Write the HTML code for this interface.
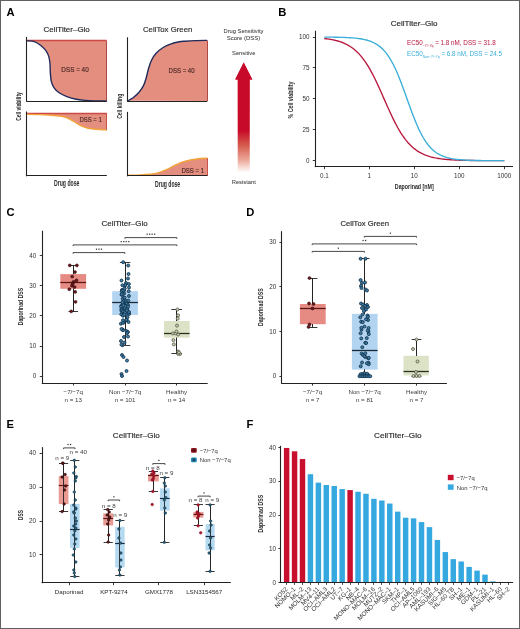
<!DOCTYPE html>
<html><head><meta charset="utf-8"><style>
html,body{margin:0;padding:0;background:#fff;}
body{width:520px;height:629px;overflow:hidden;}
svg{display:block;font-family:"Liberation Sans", sans-serif;will-change:transform;}
</style></head><body>
<svg width="520" height="629" viewBox="0 0 520 629">
<rect width="520" height="629" fill="#fff"/>
<rect x="0.5" y="0.5" width="519" height="628" fill="none" stroke="#606060" stroke-width="1"/>
<text x="6.60" y="16.00" font-size="11.2" fill="#000" text-anchor="start" font-weight="bold">A</text>
<text x="43.60" y="32.10" font-size="8.1" fill="#2a2a2a" text-anchor="start" stroke="#2a2a2a" stroke-width="0.16" textLength="46.20" lengthAdjust="spacingAndGlyphs">CellTiter–Glo</text>
<text x="143.00" y="31.90" font-size="8.1" fill="#2a2a2a" text-anchor="start" stroke="#2a2a2a" stroke-width="0.16" textLength="49.30" lengthAdjust="spacingAndGlyphs">CellTox Green</text>
<path d="M27.20,40.80 C28.38,40.93 32.08,40.87 34.30,41.60 C36.52,42.33 38.60,43.73 40.50,45.20 C42.40,46.67 44.32,48.50 45.70,50.40 C47.08,52.30 48.08,54.37 48.80,56.60 C49.52,58.83 49.75,61.22 50.00,63.80 C50.25,66.38 50.08,69.17 50.30,72.10 C50.52,75.03 50.70,78.82 51.30,81.40 C51.90,83.98 52.60,85.70 53.90,87.60 C55.20,89.50 57.03,91.33 59.10,92.80 C61.17,94.27 63.65,95.37 66.30,96.40 C68.95,97.43 71.88,98.33 75.00,99.00 C78.12,99.67 81.67,100.08 85.00,100.40 C88.33,100.72 91.40,100.80 95.00,100.90 C98.60,101.00 104.67,100.98 106.60,101.00 L106.6,40.8 Z" fill="#E38E7E" stroke="none" stroke-width="1"/>
<line x1="27.00" y1="40.50" x2="106.60" y2="40.50" stroke="#CC4A46" stroke-width="1.3"/>
<line x1="106.50" y1="40.60" x2="106.50" y2="101.00" stroke="#B04848" stroke-width="1"/>
<path d="M27.20,40.80 C28.38,40.93 32.08,40.87 34.30,41.60 C36.52,42.33 38.60,43.73 40.50,45.20 C42.40,46.67 44.32,48.50 45.70,50.40 C47.08,52.30 48.08,54.37 48.80,56.60 C49.52,58.83 49.75,61.22 50.00,63.80 C50.25,66.38 50.08,69.17 50.30,72.10 C50.52,75.03 50.70,78.82 51.30,81.40 C51.90,83.98 52.60,85.70 53.90,87.60 C55.20,89.50 57.03,91.33 59.10,92.80 C61.17,94.27 63.65,95.37 66.30,96.40 C68.95,97.43 71.88,98.33 75.00,99.00 C78.12,99.67 81.67,100.08 85.00,100.40 C88.33,100.72 91.40,100.80 95.00,100.90 C98.60,101.00 104.67,100.98 106.60,101.00" fill="none" stroke="#222C5C" stroke-width="1.4"/>
<text x="75.00" y="72.30" font-size="6.4" fill="#3C1E1E" text-anchor="middle" stroke="#3C1E1E" stroke-width="0.1" textLength="27.40" lengthAdjust="spacingAndGlyphs">DSS = 40</text>
<line x1="26.50" y1="37.00" x2="26.50" y2="101.60" stroke="#222" stroke-width="1.1"/>
<line x1="26.40" y1="101.50" x2="106.80" y2="101.50" stroke="#222" stroke-width="1.1"/>
<path d="M27.20,114.30 C29.33,114.35 36.20,114.45 40.00,114.60 C43.80,114.75 47.18,115.00 50.00,115.20 C52.82,115.40 54.60,115.55 56.90,115.80 C59.20,116.05 61.68,116.17 63.80,116.70 C65.92,117.23 67.67,118.05 69.60,119.00 C71.53,119.95 73.48,121.25 75.40,122.40 C77.32,123.55 78.98,124.93 81.10,125.90 C83.22,126.87 85.60,127.63 88.10,128.20 C90.60,128.77 93.03,129.02 96.10,129.30 C99.17,129.58 104.77,129.80 106.50,129.90 L106.6,113.3 L27.2,113.3 Z" fill="#E38E7E" stroke="none" stroke-width="1"/>
<line x1="27.00" y1="113.50" x2="106.60" y2="113.50" stroke="#CC4A46" stroke-width="1.3"/>
<line x1="106.50" y1="113.10" x2="106.50" y2="130.50" stroke="#C8524A" stroke-width="1"/>
<path d="M27.20,114.30 C29.33,114.35 36.20,114.45 40.00,114.60 C43.80,114.75 47.18,115.00 50.00,115.20 C52.82,115.40 54.60,115.55 56.90,115.80 C59.20,116.05 61.68,116.17 63.80,116.70 C65.92,117.23 67.67,118.05 69.60,119.00 C71.53,119.95 73.48,121.25 75.40,122.40 C77.32,123.55 78.98,124.93 81.10,125.90 C83.22,126.87 85.60,127.63 88.10,128.20 C90.60,128.77 93.03,129.02 96.10,129.30 C99.17,129.58 104.77,129.80 106.50,129.90" fill="none" stroke="#F2A43A" stroke-width="1.4"/>
<text x="90.60" y="121.80" font-size="6.4" fill="#3C1E1E" text-anchor="middle" stroke="#3C1E1E" stroke-width="0.1" textLength="22.40" lengthAdjust="spacingAndGlyphs">DSS = 1</text>
<line x1="26.50" y1="111.50" x2="26.50" y2="176.30" stroke="#222" stroke-width="1.1"/>
<line x1="26.40" y1="175.50" x2="106.80" y2="175.50" stroke="#222" stroke-width="1.1"/>
<text x="66.70" y="185.60" font-size="8.3" fill="#2a2a2a" text-anchor="middle" font-weight="bold" textLength="25.40" lengthAdjust="spacingAndGlyphs">Drug dose</text>
<text x="20.90" y="106.50" font-size="8.1" fill="#2a2a2a" text-anchor="middle" font-weight="bold" textLength="28.60" lengthAdjust="spacingAndGlyphs" transform="rotate(-90 20.90 106.50)">Cell viability</text>
<path d="M127.90,100.80 C128.77,100.28 131.28,99.08 133.10,97.70 C134.92,96.32 137.07,94.52 138.80,92.50 C140.53,90.48 142.25,88.10 143.50,85.60 C144.75,83.10 145.45,80.38 146.30,77.50 C147.15,74.62 147.73,71.18 148.60,68.30 C149.47,65.42 150.25,62.70 151.50,60.20 C152.75,57.70 154.17,55.42 156.10,53.30 C158.03,51.18 160.60,49.08 163.10,47.50 C165.60,45.92 168.42,44.75 171.10,43.80 C173.78,42.85 176.88,42.23 179.20,41.80 C181.52,41.37 182.37,41.40 185.00,41.20 C187.63,41.00 191.33,40.73 195.00,40.60 C198.67,40.47 205.00,40.43 207.00,40.40 L207,101 Z" fill="#E38E7E" stroke="none" stroke-width="1"/>
<line x1="207.50" y1="40.30" x2="207.50" y2="101.00" stroke="#B04848" stroke-width="1"/>
<path d="M127.90,100.80 C128.77,100.28 131.28,99.08 133.10,97.70 C134.92,96.32 137.07,94.52 138.80,92.50 C140.53,90.48 142.25,88.10 143.50,85.60 C144.75,83.10 145.45,80.38 146.30,77.50 C147.15,74.62 147.73,71.18 148.60,68.30 C149.47,65.42 150.25,62.70 151.50,60.20 C152.75,57.70 154.17,55.42 156.10,53.30 C158.03,51.18 160.60,49.08 163.10,47.50 C165.60,45.92 168.42,44.75 171.10,43.80 C173.78,42.85 176.88,42.23 179.20,41.80 C181.52,41.37 182.37,41.40 185.00,41.20 C187.63,41.00 191.33,40.73 195.00,40.60 C198.67,40.47 205.00,40.43 207.00,40.40" fill="none" stroke="#222C5C" stroke-width="1.4"/>
<text x="181.60" y="72.90" font-size="6.4" fill="#3C1E1E" text-anchor="middle" stroke="#3C1E1E" stroke-width="0.1" textLength="26.00" lengthAdjust="spacingAndGlyphs">DSS = 40</text>
<line x1="127.50" y1="37.30" x2="127.50" y2="101.60" stroke="#222" stroke-width="1.1"/>
<line x1="127.10" y1="101.50" x2="207.30" y2="101.50" stroke="#222" stroke-width="1.1"/>
<path d="M127.90,175.20 C129.92,175.15 136.32,175.07 140.00,174.90 C143.68,174.73 147.00,174.55 150.00,174.20 C153.00,173.85 155.17,173.62 158.00,172.80 C160.83,171.98 163.97,170.67 167.00,169.30 C170.03,167.93 173.13,165.97 176.20,164.60 C179.27,163.23 181.93,162.03 185.40,161.10 C188.87,160.17 193.37,159.48 197.00,159.00 C200.63,158.52 205.50,158.33 207.20,158.20 L207.2,175.8 L127.9,175.8 Z" fill="#E38E7E" stroke="none" stroke-width="1"/>
<line x1="207.50" y1="158.00" x2="207.50" y2="176.00" stroke="#C8524A" stroke-width="1"/>
<path d="M127.90,175.20 C129.92,175.15 136.32,175.07 140.00,174.90 C143.68,174.73 147.00,174.55 150.00,174.20 C153.00,173.85 155.17,173.62 158.00,172.80 C160.83,171.98 163.97,170.67 167.00,169.30 C170.03,167.93 173.13,165.97 176.20,164.60 C179.27,163.23 181.93,162.03 185.40,161.10 C188.87,160.17 193.37,159.48 197.00,159.00 C200.63,158.52 205.50,158.33 207.20,158.20" fill="none" stroke="#F2A43A" stroke-width="1.4"/>
<text x="192.80" y="172.70" font-size="6.4" fill="#3C1E1E" text-anchor="middle" stroke="#3C1E1E" stroke-width="0.1" textLength="22.70" lengthAdjust="spacingAndGlyphs">DSS = 1</text>
<line x1="127.50" y1="111.90" x2="127.50" y2="176.30" stroke="#222" stroke-width="1.1"/>
<line x1="127.10" y1="175.50" x2="207.30" y2="175.50" stroke="#222" stroke-width="1.1"/>
<text x="167.60" y="186.70" font-size="8.3" fill="#2a2a2a" text-anchor="middle" font-weight="bold" textLength="25.20" lengthAdjust="spacingAndGlyphs">Drug dose</text>
<text x="121.60" y="106.30" font-size="8.1" fill="#2a2a2a" text-anchor="middle" font-weight="bold" textLength="25.00" lengthAdjust="spacingAndGlyphs" transform="rotate(-90 121.60 106.30)">Cell killing</text>
<text x="243.50" y="32.50" font-size="6.1" fill="#3a3a3a" text-anchor="middle" stroke="#3a3a3a" stroke-width="0.04" textLength="40.00" lengthAdjust="spacingAndGlyphs">Drug Sensitivity</text>
<text x="243.50" y="39.70" font-size="6.1" fill="#3a3a3a" text-anchor="middle" stroke="#3a3a3a" stroke-width="0.04" textLength="33.50" lengthAdjust="spacingAndGlyphs">Score (DSS)</text>
<text x="243.70" y="55.10" font-size="6.1" fill="#3a3a3a" text-anchor="middle" stroke="#3a3a3a" stroke-width="0.04" textLength="23.30" lengthAdjust="spacingAndGlyphs">Sensitive</text>
<text x="243.80" y="184.40" font-size="6.1" fill="#3a3a3a" text-anchor="middle" stroke="#3a3a3a" stroke-width="0.04" textLength="24.20" lengthAdjust="spacingAndGlyphs">Resistant</text>
<defs><linearGradient id="ag" x1="0" y1="0" x2="0" y2="1"><stop offset="0" stop-color="#C8102E"/><stop offset="0.35" stop-color="#C8102E"/><stop offset="0.75" stop-color="#E58C84"/><stop offset="1" stop-color="#FFFFFF"/></linearGradient></defs>
<path d="M243.7,62.6 L252.3,79.6 L249.6,79.6 L249.6,172.5 L237.8,172.5 L237.8,79.6 L235.2,79.6 Z" fill="url(#ag)" stroke="none" stroke-width="1"/>
<path d="M243.7,62.6 L252.3,79.6 L235.2,79.6 Z" fill="#C80A2A" stroke="none" stroke-width="1"/>
<defs><linearGradient id="sg" x1="0" y1="79.6" x2="0" y2="172.5" gradientUnits="userSpaceOnUse"><stop offset="0" stop-color="#C80A2A"/><stop offset="0.55" stop-color="#C80A2A"/><stop offset="0.7" stop-color="#D4584A"/><stop offset="0.86" stop-color="#EBA596"/><stop offset="1" stop-color="#FFFFFF"/></linearGradient></defs>
<rect x="237.80" y="79.40" width="11.80" height="93.10" fill="url(#sg)"/>
<text x="278.30" y="16.00" font-size="11.2" fill="#000" text-anchor="start" font-weight="bold">B</text>
<text x="414.10" y="25.70" font-size="8.1" fill="#2a2a2a" text-anchor="middle" stroke="#2a2a2a" stroke-width="0.16" textLength="46.70" lengthAdjust="spacingAndGlyphs">CellTiter–Glo</text>
<line x1="315.50" y1="30.80" x2="315.50" y2="167.10" stroke="#222" stroke-width="1.1"/>
<line x1="314.80" y1="166.50" x2="513.00" y2="166.50" stroke="#222" stroke-width="1.1"/>
<line x1="312.80" y1="160.50" x2="315.30" y2="160.50" stroke="#222" stroke-width="0.9"/>
<text x="309.40" y="162.80" font-size="6.3" fill="#333" text-anchor="end">0</text>
<line x1="312.80" y1="129.50" x2="315.30" y2="129.50" stroke="#222" stroke-width="0.9"/>
<text x="309.40" y="131.89" font-size="6.3" fill="#333" text-anchor="end">25</text>
<line x1="312.80" y1="98.50" x2="315.30" y2="98.50" stroke="#222" stroke-width="0.9"/>
<text x="309.40" y="100.97" font-size="6.3" fill="#333" text-anchor="end">50</text>
<line x1="312.80" y1="67.50" x2="315.30" y2="67.50" stroke="#222" stroke-width="0.9"/>
<text x="309.40" y="70.06" font-size="6.3" fill="#333" text-anchor="end">75</text>
<line x1="312.80" y1="37.50" x2="315.30" y2="37.50" stroke="#222" stroke-width="0.9"/>
<text x="309.40" y="39.15" font-size="6.3" fill="#333" text-anchor="end">100</text>
<line x1="324.50" y1="166.70" x2="324.50" y2="169.20" stroke="#222" stroke-width="0.9"/>
<text x="324.30" y="178.00" font-size="6.3" fill="#333" text-anchor="middle">0.1</text>
<line x1="369.50" y1="166.70" x2="369.50" y2="169.20" stroke="#222" stroke-width="0.9"/>
<text x="369.30" y="178.00" font-size="6.3" fill="#333" text-anchor="middle">1</text>
<line x1="414.50" y1="166.70" x2="414.50" y2="169.20" stroke="#222" stroke-width="0.9"/>
<text x="414.30" y="178.00" font-size="6.3" fill="#333" text-anchor="middle">10</text>
<line x1="459.50" y1="166.70" x2="459.50" y2="169.20" stroke="#222" stroke-width="0.9"/>
<text x="459.30" y="178.00" font-size="6.3" fill="#333" text-anchor="middle">100</text>
<line x1="504.50" y1="166.70" x2="504.50" y2="169.20" stroke="#222" stroke-width="0.9"/>
<text x="504.30" y="178.00" font-size="6.3" fill="#333" text-anchor="middle">1000</text>
<text x="414.30" y="189.00" font-size="7.2" fill="#2a2a2a" text-anchor="middle" font-weight="bold" textLength="39.00" lengthAdjust="spacingAndGlyphs">Daporinad [nM]</text>
<text x="292.60" y="100.00" font-size="7.2" fill="#2a2a2a" text-anchor="middle" font-weight="bold" textLength="37.00" lengthAdjust="spacingAndGlyphs" transform="rotate(-90 292.60 100.00)">% Cell viability</text>
<path d="M324.30,38.54 L325.80,38.72 L327.30,38.91 L328.80,39.12 L330.30,39.36 L331.80,39.62 L333.30,39.92 L334.80,40.24 L336.30,40.60 L337.80,41.01 L339.30,41.45 L340.80,41.95 L342.30,42.49 L343.80,43.10 L345.30,43.77 L346.80,44.50 L348.30,45.32 L349.80,46.21 L351.30,47.19 L352.80,48.27 L354.30,49.45 L355.80,50.74 L357.30,52.14 L358.80,53.67 L360.30,55.33 L361.80,57.11 L363.30,59.04 L364.80,61.11 L366.30,63.33 L367.80,65.69 L369.30,68.19 L370.80,70.84 L372.30,73.62 L373.80,76.52 L375.30,79.55 L376.80,82.69 L378.30,85.91 L379.80,89.21 L381.30,92.57 L382.80,95.97 L384.30,99.38 L385.80,102.79 L387.30,106.18 L388.80,109.53 L390.30,112.81 L391.80,116.01 L393.30,119.11 L394.80,122.10 L396.30,124.97 L397.80,127.72 L399.30,130.32 L400.80,132.78 L402.30,135.10 L403.80,137.27 L405.30,139.30 L406.80,141.18 L408.30,142.93 L409.80,144.55 L411.30,146.04 L412.80,147.41 L414.30,148.66 L415.80,149.81 L417.30,150.86 L418.80,151.81 L420.30,152.68 L421.80,153.47 L423.30,154.19 L424.80,154.84 L426.30,155.43 L427.80,155.96 L429.30,156.44 L430.80,156.87 L432.30,157.26 L433.80,157.61 L435.30,157.93 L436.80,158.21 L438.30,158.47 L439.80,158.70 L441.30,158.90 L442.80,159.09 L444.30,159.25 L445.80,159.40 L447.30,159.54 L448.80,159.66 L450.30,159.77 L451.80,159.86 L453.30,159.95 L454.80,160.03 L456.30,160.10 L457.80,160.16 L459.30,160.22 L460.80,160.27 L462.30,160.31 L463.80,160.35 L465.30,160.39 L466.80,160.42 L468.30,160.45 L469.80,160.48 L471.30,160.50 L472.80,160.52 L474.30,160.54 L475.80,160.56 L477.30,160.57 L478.80,160.59 L480.30,160.60 L481.80,160.61 L483.30,160.62 L484.80,160.63 L486.30,160.63 L487.80,160.64 L489.30,160.65 L490.80,160.65 L492.30,160.66 L493.80,160.66 L495.30,160.67 L496.80,160.67 L498.30,160.67 L499.80,160.68 L501.30,160.68 L502.80,160.68 L504.30,160.68" fill="none" stroke="#B8173D" stroke-width="1.35"/>
<path d="M324.30,37.12 L325.80,37.13 L327.30,37.14 L328.80,37.15 L330.30,37.16 L331.80,37.18 L333.30,37.20 L334.80,37.22 L336.30,37.25 L337.80,37.28 L339.30,37.31 L340.80,37.35 L342.30,37.39 L343.80,37.44 L345.30,37.49 L346.80,37.56 L348.30,37.63 L349.80,37.72 L351.30,37.82 L352.80,37.93 L354.30,38.05 L355.80,38.20 L357.30,38.37 L358.80,38.56 L360.30,38.78 L361.80,39.02 L363.30,39.31 L364.80,39.63 L366.30,40.00 L367.80,40.42 L369.30,40.90 L370.80,41.44 L372.30,42.06 L373.80,42.76 L375.30,43.55 L376.80,44.44 L378.30,45.45 L379.80,46.59 L381.30,47.86 L382.80,49.29 L384.30,50.88 L385.80,52.65 L387.30,54.61 L388.80,56.77 L390.30,59.14 L391.80,61.73 L393.30,64.54 L394.80,67.57 L396.30,70.82 L397.80,74.27 L399.30,77.92 L400.80,81.74 L402.30,85.71 L403.80,89.80 L405.30,93.96 L406.80,98.18 L408.30,102.40 L409.80,106.58 L411.30,110.70 L412.80,114.71 L414.30,118.58 L415.80,122.29 L417.30,125.81 L418.80,129.13 L420.30,132.23 L421.80,135.11 L423.30,137.78 L424.80,140.22 L426.30,142.45 L427.80,144.47 L429.30,146.30 L430.80,147.95 L432.30,149.43 L433.80,150.76 L435.30,151.94 L436.80,152.98 L438.30,153.92 L439.80,154.74 L441.30,155.47 L442.80,156.11 L444.30,156.68 L445.80,157.18 L447.30,157.62 L448.80,158.00 L450.30,158.34 L451.80,158.64 L453.30,158.90 L454.80,159.12 L456.30,159.32 L457.80,159.50 L459.30,159.65 L460.80,159.78 L462.30,159.90 L463.80,160.00 L465.30,160.09 L466.80,160.17 L468.30,160.23 L469.80,160.29 L471.30,160.35 L472.80,160.39 L474.30,160.43 L475.80,160.46 L477.30,160.49 L478.80,160.52 L480.30,160.54 L481.80,160.56 L483.30,160.58 L484.80,160.60 L486.30,160.61 L487.80,160.62 L489.30,160.63 L490.80,160.64 L492.30,160.65 L493.80,160.65 L495.30,160.66 L496.80,160.67 L498.30,160.67 L499.80,160.67 L501.30,160.68 L502.80,160.68 L504.30,160.68" fill="none" stroke="#3AAED8" stroke-width="1.35"/>
<text x="407.1" y="45.2" font-size="6.3" fill="#B8173D" font-family='"Liberation Sans", sans-serif'>EC50<tspan font-size="3.4" dy="1.7">−7/−7q</tspan><tspan dy="-1.7"> = 1.8 nM, DSS = 31.8</tspan></text>
<text x="407.1" y="56.2" font-size="6.3" fill="#3AAED8" font-family='"Liberation Sans", sans-serif'>EC50<tspan font-size="3.4" dy="1.7">Non−7/−7q</tspan><tspan dy="-1.7"> = 6.8 nM, DSS = 24.5</tspan></text>
<text x="6.60" y="216.00" font-size="11.2" fill="#000" text-anchor="start" font-weight="bold">C</text>
<text x="124.60" y="225.60" font-size="8.1" fill="#2a2a2a" text-anchor="middle" stroke="#2a2a2a" stroke-width="0.16" textLength="46.20" lengthAdjust="spacingAndGlyphs">CellTiter–Glo</text>
<line x1="42.50" y1="230.70" x2="42.50" y2="383.50" stroke="#222" stroke-width="1.1"/>
<line x1="41.80" y1="383.50" x2="207.70" y2="383.50" stroke="#222" stroke-width="1.1"/>
<line x1="39.80" y1="376.50" x2="42.30" y2="376.50" stroke="#222" stroke-width="0.9"/>
<text x="36.30" y="378.40" font-size="6.3" fill="#333" text-anchor="end">0</text>
<line x1="39.80" y1="346.50" x2="42.30" y2="346.50" stroke="#222" stroke-width="0.9"/>
<text x="36.30" y="348.20" font-size="6.3" fill="#333" text-anchor="end">10</text>
<line x1="39.80" y1="315.50" x2="42.30" y2="315.50" stroke="#222" stroke-width="0.9"/>
<text x="36.30" y="318.00" font-size="6.3" fill="#333" text-anchor="end">20</text>
<line x1="39.80" y1="285.50" x2="42.30" y2="285.50" stroke="#222" stroke-width="0.9"/>
<text x="36.30" y="287.80" font-size="6.3" fill="#333" text-anchor="end">30</text>
<line x1="39.80" y1="255.50" x2="42.30" y2="255.50" stroke="#222" stroke-width="0.9"/>
<text x="36.30" y="257.60" font-size="6.3" fill="#333" text-anchor="end">40</text>
<text x="23.10" y="306.50" font-size="7.2" fill="#2a2a2a" text-anchor="middle" font-weight="bold" textLength="37.50" lengthAdjust="spacingAndGlyphs" transform="rotate(-90 23.10 306.50)">Daporinad DSS</text>
<line x1="73.50" y1="383.00" x2="73.50" y2="385.50" stroke="#222" stroke-width="0.9"/>
<text x="73.20" y="394.00" font-size="6.2" fill="#3a3a3a" text-anchor="middle">−7/−7q</text>
<text x="73.20" y="401.50" font-size="6.2" fill="#3a3a3a" text-anchor="middle">n = 13</text>
<line x1="125.50" y1="383.00" x2="125.50" y2="385.50" stroke="#222" stroke-width="0.9"/>
<text x="125.10" y="394.00" font-size="6.2" fill="#3a3a3a" text-anchor="middle">Non −7/−7q</text>
<text x="125.10" y="401.50" font-size="6.2" fill="#3a3a3a" text-anchor="middle">n = 101</text>
<line x1="176.50" y1="383.00" x2="176.50" y2="385.50" stroke="#222" stroke-width="0.9"/>
<text x="176.60" y="394.00" font-size="6.2" fill="#3a3a3a" text-anchor="middle">Healthy</text>
<text x="176.60" y="401.50" font-size="6.2" fill="#3a3a3a" text-anchor="middle">n = 14</text>
<path d="M124.90,238.80 L124.90,237.60 L176.90,237.60 L176.90,238.80" fill="none" stroke="#333" stroke-width="0.9"/>
<rect x="146.53" y="233.58" width="1.24" height="1.24" fill="#333"/>
<rect x="149.03" y="233.58" width="1.24" height="1.24" fill="#333"/>
<rect x="151.53" y="233.58" width="1.24" height="1.24" fill="#333"/>
<rect x="154.03" y="233.58" width="1.24" height="1.24" fill="#333"/>
<path d="M73.10,246.10 L73.10,244.90 L176.90,244.90 L176.90,246.10" fill="none" stroke="#333" stroke-width="0.9"/>
<rect x="120.63" y="240.98" width="1.24" height="1.24" fill="#333"/>
<rect x="123.13" y="240.98" width="1.24" height="1.24" fill="#333"/>
<rect x="125.63" y="240.98" width="1.24" height="1.24" fill="#333"/>
<rect x="128.13" y="240.98" width="1.24" height="1.24" fill="#333"/>
<path d="M73.10,253.80 L73.10,252.60 L124.90,252.60 L124.90,253.80" fill="none" stroke="#333" stroke-width="0.9"/>
<rect x="95.88" y="248.58" width="1.24" height="1.24" fill="#333"/>
<rect x="98.38" y="248.58" width="1.24" height="1.24" fill="#333"/>
<rect x="100.88" y="248.58" width="1.24" height="1.24" fill="#333"/>
<line x1="73.50" y1="265.30" x2="73.50" y2="311.50" stroke="#222" stroke-width="0.9"/>
<rect x="60.30" y="274.10" width="25.80" height="14.70" fill="#E68B84" fill-opacity="1"/>
<line x1="73.50" y1="265.30" x2="73.50" y2="274.10" stroke="#222" stroke-width="0.9"/>
<line x1="73.50" y1="288.80" x2="73.50" y2="311.50" stroke="#222" stroke-width="0.9"/>
<line x1="68.55" y1="265.50" x2="78.05" y2="265.50" stroke="#222" stroke-width="0.9"/>
<line x1="68.55" y1="311.50" x2="78.05" y2="311.50" stroke="#222" stroke-width="0.9"/>
<line x1="60.30" y1="282.50" x2="86.10" y2="282.50" stroke="#5E1616" stroke-width="1.3"/>
<circle cx="69.80" cy="265.40" r="1.45" fill="#7A1518" stroke="#1A0A0A" stroke-width="0.6"/>
<circle cx="76.90" cy="265.40" r="1.45" fill="#7A1518" stroke="#1A0A0A" stroke-width="0.6"/>
<circle cx="75.00" cy="272.10" r="1.45" fill="#7A1518" stroke="#1A0A0A" stroke-width="0.6"/>
<circle cx="72.20" cy="276.60" r="1.45" fill="#7A1518" stroke="#1A0A0A" stroke-width="0.6"/>
<circle cx="76.50" cy="280.40" r="1.45" fill="#7A1518" stroke="#1A0A0A" stroke-width="0.6"/>
<circle cx="73.60" cy="281.90" r="1.45" fill="#7A1518" stroke="#1A0A0A" stroke-width="0.6"/>
<circle cx="72.70" cy="283.80" r="1.45" fill="#7A1518" stroke="#1A0A0A" stroke-width="0.6"/>
<circle cx="72.00" cy="285.70" r="1.45" fill="#7A1518" stroke="#1A0A0A" stroke-width="0.6"/>
<circle cx="74.60" cy="287.10" r="1.45" fill="#7A1518" stroke="#1A0A0A" stroke-width="0.6"/>
<circle cx="69.30" cy="289.30" r="1.45" fill="#7A1518" stroke="#1A0A0A" stroke-width="0.6"/>
<circle cx="75.20" cy="291.90" r="1.45" fill="#7A1518" stroke="#1A0A0A" stroke-width="0.6"/>
<circle cx="75.50" cy="301.90" r="1.45" fill="#7A1518" stroke="#1A0A0A" stroke-width="0.6"/>
<circle cx="71.20" cy="311.40" r="1.45" fill="#7A1518" stroke="#1A0A0A" stroke-width="0.6"/>
<line x1="125.50" y1="262.20" x2="125.50" y2="345.20" stroke="#222" stroke-width="0.9"/>
<rect x="112.20" y="291.20" width="25.70" height="23.80" fill="#B2D4F1" fill-opacity="1"/>
<line x1="125.50" y1="262.20" x2="125.50" y2="291.20" stroke="#222" stroke-width="0.9"/>
<line x1="125.50" y1="315.00" x2="125.50" y2="345.20" stroke="#222" stroke-width="0.9"/>
<line x1="119.90" y1="262.50" x2="130.30" y2="262.50" stroke="#222" stroke-width="0.9"/>
<line x1="119.90" y1="345.50" x2="130.30" y2="345.50" stroke="#222" stroke-width="0.9"/>
<line x1="112.20" y1="302.50" x2="137.90" y2="302.50" stroke="#1A2A3A" stroke-width="1.3"/>
<circle cx="123.20" cy="262.20" r="1.5" fill="#3F80A8" stroke="#12304A" stroke-width="0.85"/>
<circle cx="128.20" cy="265.50" r="1.5" fill="#3F80A8" stroke="#12304A" stroke-width="0.85"/>
<circle cx="128.50" cy="274.00" r="1.5" fill="#3F80A8" stroke="#12304A" stroke-width="0.85"/>
<circle cx="121.50" cy="280.50" r="1.5" fill="#3F80A8" stroke="#12304A" stroke-width="0.85"/>
<circle cx="128.00" cy="278.50" r="1.5" fill="#3F80A8" stroke="#12304A" stroke-width="0.85"/>
<circle cx="126.00" cy="283.00" r="1.5" fill="#3F80A8" stroke="#12304A" stroke-width="0.85"/>
<circle cx="124.50" cy="286.00" r="1.5" fill="#3F80A8" stroke="#12304A" stroke-width="0.85"/>
<circle cx="129.00" cy="287.50" r="1.5" fill="#3F80A8" stroke="#12304A" stroke-width="0.85"/>
<circle cx="122.00" cy="290.00" r="1.5" fill="#3F80A8" stroke="#12304A" stroke-width="0.85"/>
<circle cx="128.66" cy="291.15" r="1.5" fill="#3F80A8" stroke="#12304A" stroke-width="0.85"/>
<circle cx="124.81" cy="307.96" r="1.5" fill="#3F80A8" stroke="#12304A" stroke-width="0.85"/>
<circle cx="122.45" cy="290.05" r="1.5" fill="#3F80A8" stroke="#12304A" stroke-width="0.85"/>
<circle cx="125.20" cy="303.31" r="1.5" fill="#3F80A8" stroke="#12304A" stroke-width="0.85"/>
<circle cx="121.69" cy="291.23" r="1.5" fill="#3F80A8" stroke="#12304A" stroke-width="0.85"/>
<circle cx="123.45" cy="290.42" r="1.5" fill="#3F80A8" stroke="#12304A" stroke-width="0.85"/>
<circle cx="126.72" cy="320.10" r="1.5" fill="#3F80A8" stroke="#12304A" stroke-width="0.85"/>
<circle cx="121.25" cy="314.32" r="1.5" fill="#3F80A8" stroke="#12304A" stroke-width="0.85"/>
<circle cx="126.39" cy="330.99" r="1.5" fill="#3F80A8" stroke="#12304A" stroke-width="0.85"/>
<circle cx="126.07" cy="300.97" r="1.5" fill="#3F80A8" stroke="#12304A" stroke-width="0.85"/>
<circle cx="125.34" cy="305.00" r="1.5" fill="#3F80A8" stroke="#12304A" stroke-width="0.85"/>
<circle cx="121.40" cy="305.53" r="1.5" fill="#3F80A8" stroke="#12304A" stroke-width="0.85"/>
<circle cx="121.15" cy="306.87" r="1.5" fill="#3F80A8" stroke="#12304A" stroke-width="0.85"/>
<circle cx="124.80" cy="311.27" r="1.5" fill="#3F80A8" stroke="#12304A" stroke-width="0.85"/>
<circle cx="125.26" cy="285.21" r="1.5" fill="#3F80A8" stroke="#12304A" stroke-width="0.85"/>
<circle cx="126.28" cy="311.37" r="1.5" fill="#3F80A8" stroke="#12304A" stroke-width="0.85"/>
<circle cx="124.74" cy="288.53" r="1.5" fill="#3F80A8" stroke="#12304A" stroke-width="0.85"/>
<circle cx="123.24" cy="304.02" r="1.5" fill="#3F80A8" stroke="#12304A" stroke-width="0.85"/>
<circle cx="127.96" cy="332.00" r="1.5" fill="#3F80A8" stroke="#12304A" stroke-width="0.85"/>
<circle cx="126.85" cy="303.49" r="1.5" fill="#3F80A8" stroke="#12304A" stroke-width="0.85"/>
<circle cx="123.33" cy="300.98" r="1.5" fill="#3F80A8" stroke="#12304A" stroke-width="0.85"/>
<circle cx="121.49" cy="310.96" r="1.5" fill="#3F80A8" stroke="#12304A" stroke-width="0.85"/>
<circle cx="128.01" cy="305.08" r="1.5" fill="#3F80A8" stroke="#12304A" stroke-width="0.85"/>
<circle cx="124.15" cy="293.44" r="1.5" fill="#3F80A8" stroke="#12304A" stroke-width="0.85"/>
<circle cx="120.90" cy="323.65" r="1.5" fill="#3F80A8" stroke="#12304A" stroke-width="0.85"/>
<circle cx="122.66" cy="298.70" r="1.5" fill="#3F80A8" stroke="#12304A" stroke-width="0.85"/>
<circle cx="129.14" cy="314.00" r="1.5" fill="#3F80A8" stroke="#12304A" stroke-width="0.85"/>
<circle cx="124.24" cy="297.68" r="1.5" fill="#3F80A8" stroke="#12304A" stroke-width="0.85"/>
<circle cx="127.44" cy="317.26" r="1.5" fill="#3F80A8" stroke="#12304A" stroke-width="0.85"/>
<circle cx="123.17" cy="310.55" r="1.5" fill="#3F80A8" stroke="#12304A" stroke-width="0.85"/>
<circle cx="129.00" cy="312.06" r="1.5" fill="#3F80A8" stroke="#12304A" stroke-width="0.85"/>
<circle cx="127.27" cy="308.92" r="1.5" fill="#3F80A8" stroke="#12304A" stroke-width="0.85"/>
<circle cx="121.75" cy="309.82" r="1.5" fill="#3F80A8" stroke="#12304A" stroke-width="0.85"/>
<circle cx="121.40" cy="309.33" r="1.5" fill="#3F80A8" stroke="#12304A" stroke-width="0.85"/>
<circle cx="125.60" cy="305.91" r="1.5" fill="#3F80A8" stroke="#12304A" stroke-width="0.85"/>
<circle cx="124.66" cy="297.72" r="1.5" fill="#3F80A8" stroke="#12304A" stroke-width="0.85"/>
<circle cx="122.00" cy="310.20" r="1.5" fill="#3F80A8" stroke="#12304A" stroke-width="0.85"/>
<circle cx="126.31" cy="319.87" r="1.5" fill="#3F80A8" stroke="#12304A" stroke-width="0.85"/>
<circle cx="122.69" cy="312.16" r="1.5" fill="#3F80A8" stroke="#12304A" stroke-width="0.85"/>
<circle cx="123.17" cy="311.33" r="1.5" fill="#3F80A8" stroke="#12304A" stroke-width="0.85"/>
<circle cx="123.45" cy="322.62" r="1.5" fill="#3F80A8" stroke="#12304A" stroke-width="0.85"/>
<circle cx="128.33" cy="300.56" r="1.5" fill="#3F80A8" stroke="#12304A" stroke-width="0.85"/>
<circle cx="128.08" cy="306.57" r="1.5" fill="#3F80A8" stroke="#12304A" stroke-width="0.85"/>
<circle cx="126.29" cy="314.20" r="1.5" fill="#3F80A8" stroke="#12304A" stroke-width="0.85"/>
<circle cx="122.69" cy="329.55" r="1.5" fill="#3F80A8" stroke="#12304A" stroke-width="0.85"/>
<circle cx="123.07" cy="322.65" r="1.5" fill="#3F80A8" stroke="#12304A" stroke-width="0.85"/>
<circle cx="123.39" cy="305.33" r="1.5" fill="#3F80A8" stroke="#12304A" stroke-width="0.85"/>
<circle cx="121.52" cy="294.72" r="1.5" fill="#3F80A8" stroke="#12304A" stroke-width="0.85"/>
<circle cx="122.94" cy="315.72" r="1.5" fill="#3F80A8" stroke="#12304A" stroke-width="0.85"/>
<circle cx="125.95" cy="311.45" r="1.5" fill="#3F80A8" stroke="#12304A" stroke-width="0.85"/>
<circle cx="128.96" cy="296.01" r="1.5" fill="#3F80A8" stroke="#12304A" stroke-width="0.85"/>
<circle cx="124.96" cy="312.33" r="1.5" fill="#3F80A8" stroke="#12304A" stroke-width="0.85"/>
<circle cx="122.44" cy="285.20" r="1.5" fill="#3F80A8" stroke="#12304A" stroke-width="0.85"/>
<circle cx="122.19" cy="294.48" r="1.5" fill="#3F80A8" stroke="#12304A" stroke-width="0.85"/>
<circle cx="123.00" cy="320.26" r="1.5" fill="#3F80A8" stroke="#12304A" stroke-width="0.85"/>
<circle cx="122.49" cy="293.46" r="1.5" fill="#3F80A8" stroke="#12304A" stroke-width="0.85"/>
<circle cx="122.55" cy="302.34" r="1.5" fill="#3F80A8" stroke="#12304A" stroke-width="0.85"/>
<circle cx="128.88" cy="284.00" r="1.5" fill="#3F80A8" stroke="#12304A" stroke-width="0.85"/>
<circle cx="124.44" cy="314.55" r="1.5" fill="#3F80A8" stroke="#12304A" stroke-width="0.85"/>
<circle cx="121.77" cy="294.37" r="1.5" fill="#3F80A8" stroke="#12304A" stroke-width="0.85"/>
<circle cx="122.90" cy="330.13" r="1.5" fill="#3F80A8" stroke="#12304A" stroke-width="0.85"/>
<circle cx="126.82" cy="310.48" r="1.5" fill="#3F80A8" stroke="#12304A" stroke-width="0.85"/>
<circle cx="128.50" cy="322.00" r="1.5" fill="#3F80A8" stroke="#12304A" stroke-width="0.85"/>
<circle cx="121.50" cy="329.00" r="1.5" fill="#3F80A8" stroke="#12304A" stroke-width="0.85"/>
<circle cx="127.00" cy="333.00" r="1.5" fill="#3F80A8" stroke="#12304A" stroke-width="0.85"/>
<circle cx="124.00" cy="337.00" r="1.5" fill="#3F80A8" stroke="#12304A" stroke-width="0.85"/>
<circle cx="128.00" cy="336.50" r="1.5" fill="#3F80A8" stroke="#12304A" stroke-width="0.85"/>
<circle cx="121.00" cy="341.00" r="1.5" fill="#3F80A8" stroke="#12304A" stroke-width="0.85"/>
<circle cx="124.50" cy="342.50" r="1.5" fill="#3F80A8" stroke="#12304A" stroke-width="0.85"/>
<circle cx="122.50" cy="345.20" r="1.5" fill="#3F80A8" stroke="#12304A" stroke-width="0.85"/>
<circle cx="121.50" cy="344.50" r="1.5" fill="#3F80A8" stroke="#12304A" stroke-width="0.85"/>
<circle cx="122.00" cy="355.00" r="1.5" fill="#3F80A8" stroke="#12304A" stroke-width="0.85"/>
<circle cx="123.50" cy="357.00" r="1.5" fill="#3F80A8" stroke="#12304A" stroke-width="0.85"/>
<circle cx="127.00" cy="360.50" r="1.5" fill="#3F80A8" stroke="#12304A" stroke-width="0.85"/>
<circle cx="126.50" cy="371.00" r="1.5" fill="#3F80A8" stroke="#12304A" stroke-width="0.85"/>
<circle cx="121.50" cy="374.00" r="1.5" fill="#3F80A8" stroke="#12304A" stroke-width="0.85"/>
<circle cx="122.00" cy="376.00" r="1.5" fill="#3F80A8" stroke="#12304A" stroke-width="0.85"/>
<line x1="176.50" y1="309.50" x2="176.50" y2="353.90" stroke="#222" stroke-width="0.9"/>
<rect x="164.00" y="321.00" width="25.60" height="16.70" fill="#DCE2C6" fill-opacity="1"/>
<line x1="176.50" y1="309.50" x2="176.50" y2="321.00" stroke="#222" stroke-width="0.9"/>
<line x1="176.50" y1="337.70" x2="176.50" y2="353.90" stroke="#222" stroke-width="0.9"/>
<line x1="171.35" y1="309.50" x2="182.05" y2="309.50" stroke="#222" stroke-width="0.9"/>
<line x1="171.35" y1="353.50" x2="182.05" y2="353.50" stroke="#222" stroke-width="0.9"/>
<line x1="164.00" y1="333.50" x2="189.60" y2="333.50" stroke="#283020" stroke-width="1.3"/>
<circle cx="177.50" cy="309.50" r="1.5" fill="#C9CFAE" stroke="#4A4F40" stroke-width="0.75"/>
<circle cx="178.10" cy="315.30" r="1.5" fill="#C9CFAE" stroke="#4A4F40" stroke-width="0.75"/>
<circle cx="177.70" cy="318.60" r="1.5" fill="#C9CFAE" stroke="#4A4F40" stroke-width="0.75"/>
<circle cx="177.00" cy="325.60" r="1.5" fill="#C9CFAE" stroke="#4A4F40" stroke-width="0.75"/>
<circle cx="172.90" cy="333.40" r="1.5" fill="#C9CFAE" stroke="#4A4F40" stroke-width="0.75"/>
<circle cx="175.70" cy="333.40" r="1.5" fill="#C9CFAE" stroke="#4A4F40" stroke-width="0.75"/>
<circle cx="178.10" cy="334.50" r="1.5" fill="#C9CFAE" stroke="#4A4F40" stroke-width="0.75"/>
<circle cx="173.40" cy="340.10" r="1.5" fill="#C9CFAE" stroke="#4A4F40" stroke-width="0.75"/>
<circle cx="173.80" cy="344.40" r="1.5" fill="#C9CFAE" stroke="#4A4F40" stroke-width="0.75"/>
<circle cx="178.10" cy="351.50" r="1.5" fill="#C9CFAE" stroke="#4A4F40" stroke-width="0.75"/>
<circle cx="180.00" cy="353.90" r="1.5" fill="#C9CFAE" stroke="#4A4F40" stroke-width="0.75"/>
<circle cx="178.10" cy="353.90" r="1.5" fill="#C9CFAE" stroke="#4A4F40" stroke-width="0.75"/>
<circle cx="176.50" cy="331.50" r="1.5" fill="#C9CFAE" stroke="#4A4F40" stroke-width="0.75"/>
<circle cx="179.00" cy="352.50" r="1.5" fill="#C9CFAE" stroke="#4A4F40" stroke-width="0.75"/>
<text x="246.20" y="216.00" font-size="11.2" fill="#000" text-anchor="start" font-weight="bold">D</text>
<text x="364.70" y="225.80" font-size="8.1" fill="#2a2a2a" text-anchor="middle" stroke="#2a2a2a" stroke-width="0.16" textLength="48.60" lengthAdjust="spacingAndGlyphs">CellTox Green</text>
<line x1="281.50" y1="231.20" x2="281.50" y2="383.70" stroke="#222" stroke-width="1.1"/>
<line x1="281.40" y1="383.50" x2="446.90" y2="383.50" stroke="#222" stroke-width="1.1"/>
<line x1="279.40" y1="376.50" x2="281.90" y2="376.50" stroke="#222" stroke-width="0.9"/>
<text x="276.20" y="378.30" font-size="6.3" fill="#333" text-anchor="end">0</text>
<line x1="279.40" y1="331.50" x2="281.90" y2="331.50" stroke="#222" stroke-width="0.9"/>
<text x="276.20" y="333.60" font-size="6.3" fill="#333" text-anchor="end">10</text>
<line x1="279.40" y1="286.50" x2="281.90" y2="286.50" stroke="#222" stroke-width="0.9"/>
<text x="276.20" y="288.90" font-size="6.3" fill="#333" text-anchor="end">20</text>
<line x1="279.40" y1="242.50" x2="281.90" y2="242.50" stroke="#222" stroke-width="0.9"/>
<text x="276.20" y="244.20" font-size="6.3" fill="#333" text-anchor="end">30</text>
<text x="263.10" y="307.20" font-size="7.2" fill="#2a2a2a" text-anchor="middle" font-weight="bold" textLength="37.60" lengthAdjust="spacingAndGlyphs" transform="rotate(-90 263.10 307.20)">Daporinad DSS</text>
<line x1="312.50" y1="383.20" x2="312.50" y2="385.70" stroke="#222" stroke-width="0.9"/>
<text x="312.60" y="394.20" font-size="6.2" fill="#3a3a3a" text-anchor="middle">−7/−7q</text>
<text x="312.60" y="401.70" font-size="6.2" fill="#3a3a3a" text-anchor="middle">n = 7</text>
<line x1="364.50" y1="383.20" x2="364.50" y2="385.70" stroke="#222" stroke-width="0.9"/>
<text x="364.60" y="394.20" font-size="6.2" fill="#3a3a3a" text-anchor="middle">Non −7/−7q</text>
<text x="364.60" y="401.70" font-size="6.2" fill="#3a3a3a" text-anchor="middle">n = 81</text>
<line x1="416.50" y1="383.20" x2="416.50" y2="385.70" stroke="#222" stroke-width="0.9"/>
<text x="416.50" y="394.20" font-size="6.2" fill="#3a3a3a" text-anchor="middle">Healthy</text>
<text x="416.50" y="401.70" font-size="6.2" fill="#3a3a3a" text-anchor="middle">n = 7</text>
<path d="M364.30,237.60 L364.30,236.40 L416.50,236.40 L416.50,237.60" fill="none" stroke="#333" stroke-width="0.9"/>
<rect x="389.78" y="232.58" width="1.24" height="1.24" fill="#333"/>
<path d="M312.20,245.10 L312.20,243.90 L416.50,243.90 L416.50,245.10" fill="none" stroke="#333" stroke-width="0.9"/>
<rect x="362.48" y="239.88" width="1.24" height="1.24" fill="#333"/>
<rect x="364.98" y="239.88" width="1.24" height="1.24" fill="#333"/>
<path d="M312.20,252.60 L312.20,251.40 L364.50,251.40 L364.50,252.60" fill="none" stroke="#333" stroke-width="0.9"/>
<rect x="337.73" y="247.58" width="1.24" height="1.24" fill="#333"/>
<line x1="312.50" y1="278.10" x2="312.50" y2="327.30" stroke="#222" stroke-width="0.9"/>
<rect x="299.90" y="304.00" width="25.80" height="20.20" fill="#E68B84" fill-opacity="1"/>
<line x1="312.50" y1="278.10" x2="312.50" y2="304.00" stroke="#222" stroke-width="0.9"/>
<line x1="312.50" y1="324.20" x2="312.50" y2="327.30" stroke="#222" stroke-width="0.9"/>
<line x1="307.80" y1="278.50" x2="317.40" y2="278.50" stroke="#222" stroke-width="0.9"/>
<line x1="307.80" y1="327.50" x2="317.40" y2="327.50" stroke="#222" stroke-width="0.9"/>
<line x1="299.90" y1="308.50" x2="325.70" y2="308.50" stroke="#5E1616" stroke-width="1.3"/>
<circle cx="309.50" cy="278.10" r="1.45" fill="#7A1518" stroke="#1A0A0A" stroke-width="0.6"/>
<circle cx="309.00" cy="303.50" r="1.45" fill="#7A1518" stroke="#1A0A0A" stroke-width="0.6"/>
<circle cx="313.50" cy="304.00" r="1.45" fill="#7A1518" stroke="#1A0A0A" stroke-width="0.6"/>
<circle cx="312.50" cy="308.50" r="1.45" fill="#7A1518" stroke="#1A0A0A" stroke-width="0.6"/>
<circle cx="309.50" cy="324.50" r="1.45" fill="#7A1518" stroke="#1A0A0A" stroke-width="0.6"/>
<circle cx="308.50" cy="327.00" r="1.45" fill="#7A1518" stroke="#1A0A0A" stroke-width="0.6"/>
<line x1="364.50" y1="258.60" x2="364.50" y2="376.20" stroke="#222" stroke-width="0.9"/>
<rect x="351.90" y="313.90" width="25.70" height="55.70" fill="#B2D4F1" fill-opacity="1"/>
<line x1="364.50" y1="258.60" x2="364.50" y2="313.90" stroke="#222" stroke-width="0.9"/>
<line x1="364.50" y1="369.60" x2="364.50" y2="376.20" stroke="#222" stroke-width="0.9"/>
<line x1="359.60" y1="258.50" x2="369.60" y2="258.50" stroke="#222" stroke-width="0.9"/>
<line x1="359.60" y1="376.50" x2="369.60" y2="376.50" stroke="#222" stroke-width="0.9"/>
<line x1="351.90" y1="350.50" x2="377.60" y2="350.50" stroke="#1A2A3A" stroke-width="1.3"/>
<circle cx="360.60" cy="258.70" r="1.5" fill="#3F80A8" stroke="#12304A" stroke-width="0.85"/>
<circle cx="365.50" cy="258.70" r="1.5" fill="#3F80A8" stroke="#12304A" stroke-width="0.85"/>
<circle cx="360.60" cy="280.10" r="1.5" fill="#3F80A8" stroke="#12304A" stroke-width="0.85"/>
<circle cx="362.00" cy="283.00" r="1.5" fill="#3F80A8" stroke="#12304A" stroke-width="0.85"/>
<circle cx="361.00" cy="286.00" r="1.5" fill="#3F80A8" stroke="#12304A" stroke-width="0.85"/>
<circle cx="365.00" cy="282.50" r="1.5" fill="#3F80A8" stroke="#12304A" stroke-width="0.85"/>
<circle cx="361.50" cy="288.00" r="1.5" fill="#3F80A8" stroke="#12304A" stroke-width="0.85"/>
<circle cx="365.50" cy="289.50" r="1.5" fill="#3F80A8" stroke="#12304A" stroke-width="0.85"/>
<circle cx="367.00" cy="290.50" r="1.5" fill="#3F80A8" stroke="#12304A" stroke-width="0.85"/>
<circle cx="361.00" cy="303.50" r="1.5" fill="#3F80A8" stroke="#12304A" stroke-width="0.85"/>
<circle cx="363.00" cy="304.50" r="1.5" fill="#3F80A8" stroke="#12304A" stroke-width="0.85"/>
<circle cx="367.00" cy="305.00" r="1.5" fill="#3F80A8" stroke="#12304A" stroke-width="0.85"/>
<circle cx="365.00" cy="306.00" r="1.5" fill="#3F80A8" stroke="#12304A" stroke-width="0.85"/>
<circle cx="368.00" cy="307.00" r="1.5" fill="#3F80A8" stroke="#12304A" stroke-width="0.85"/>
<circle cx="362.00" cy="308.00" r="1.5" fill="#3F80A8" stroke="#12304A" stroke-width="0.85"/>
<circle cx="366.00" cy="309.50" r="1.5" fill="#3F80A8" stroke="#12304A" stroke-width="0.85"/>
<circle cx="364.00" cy="311.00" r="1.5" fill="#3F80A8" stroke="#12304A" stroke-width="0.85"/>
<circle cx="362.50" cy="314.50" r="1.5" fill="#3F80A8" stroke="#12304A" stroke-width="0.85"/>
<circle cx="367.50" cy="315.50" r="1.5" fill="#3F80A8" stroke="#12304A" stroke-width="0.85"/>
<circle cx="368.00" cy="320.00" r="1.5" fill="#3F80A8" stroke="#12304A" stroke-width="0.85"/>
<circle cx="366.78" cy="338.11" r="1.5" fill="#3F80A8" stroke="#12304A" stroke-width="0.85"/>
<circle cx="368.58" cy="327.94" r="1.5" fill="#3F80A8" stroke="#12304A" stroke-width="0.85"/>
<circle cx="368.40" cy="331.20" r="1.5" fill="#3F80A8" stroke="#12304A" stroke-width="0.85"/>
<circle cx="364.29" cy="373.15" r="1.5" fill="#3F80A8" stroke="#12304A" stroke-width="0.85"/>
<circle cx="365.94" cy="319.20" r="1.5" fill="#3F80A8" stroke="#12304A" stroke-width="0.85"/>
<circle cx="361.12" cy="321.70" r="1.5" fill="#3F80A8" stroke="#12304A" stroke-width="0.85"/>
<circle cx="362.32" cy="347.18" r="1.5" fill="#3F80A8" stroke="#12304A" stroke-width="0.85"/>
<circle cx="365.27" cy="342.77" r="1.5" fill="#3F80A8" stroke="#12304A" stroke-width="0.85"/>
<circle cx="362.05" cy="374.09" r="1.5" fill="#3F80A8" stroke="#12304A" stroke-width="0.85"/>
<circle cx="368.35" cy="358.37" r="1.5" fill="#3F80A8" stroke="#12304A" stroke-width="0.85"/>
<circle cx="361.54" cy="329.68" r="1.5" fill="#3F80A8" stroke="#12304A" stroke-width="0.85"/>
<circle cx="361.35" cy="327.82" r="1.5" fill="#3F80A8" stroke="#12304A" stroke-width="0.85"/>
<circle cx="361.24" cy="338.43" r="1.5" fill="#3F80A8" stroke="#12304A" stroke-width="0.85"/>
<circle cx="367.94" cy="374.75" r="1.5" fill="#3F80A8" stroke="#12304A" stroke-width="0.85"/>
<circle cx="362.04" cy="362.50" r="1.5" fill="#3F80A8" stroke="#12304A" stroke-width="0.85"/>
<circle cx="367.95" cy="316.89" r="1.5" fill="#3F80A8" stroke="#12304A" stroke-width="0.85"/>
<circle cx="368.75" cy="357.79" r="1.5" fill="#3F80A8" stroke="#12304A" stroke-width="0.85"/>
<circle cx="366.20" cy="343.04" r="1.5" fill="#3F80A8" stroke="#12304A" stroke-width="0.85"/>
<circle cx="368.57" cy="362.78" r="1.5" fill="#3F80A8" stroke="#12304A" stroke-width="0.85"/>
<circle cx="368.80" cy="334.11" r="1.5" fill="#3F80A8" stroke="#12304A" stroke-width="0.85"/>
<circle cx="362.79" cy="322.12" r="1.5" fill="#3F80A8" stroke="#12304A" stroke-width="0.85"/>
<circle cx="361.59" cy="353.55" r="1.5" fill="#3F80A8" stroke="#12304A" stroke-width="0.85"/>
<circle cx="360.69" cy="366.26" r="1.5" fill="#3F80A8" stroke="#12304A" stroke-width="0.85"/>
<circle cx="365.53" cy="357.08" r="1.5" fill="#3F80A8" stroke="#12304A" stroke-width="0.85"/>
<circle cx="366.20" cy="374.66" r="1.5" fill="#3F80A8" stroke="#12304A" stroke-width="0.85"/>
<circle cx="362.89" cy="354.92" r="1.5" fill="#3F80A8" stroke="#12304A" stroke-width="0.85"/>
<circle cx="364.43" cy="326.56" r="1.5" fill="#3F80A8" stroke="#12304A" stroke-width="0.85"/>
<circle cx="364.43" cy="356.23" r="1.5" fill="#3F80A8" stroke="#12304A" stroke-width="0.85"/>
<circle cx="360.61" cy="333.28" r="1.5" fill="#3F80A8" stroke="#12304A" stroke-width="0.85"/>
<circle cx="360.31" cy="317.32" r="1.5" fill="#3F80A8" stroke="#12304A" stroke-width="0.85"/>
<circle cx="367.70" cy="330.62" r="1.5" fill="#3F80A8" stroke="#12304A" stroke-width="0.85"/>
<circle cx="367.19" cy="373.79" r="1.5" fill="#3F80A8" stroke="#12304A" stroke-width="0.85"/>
<circle cx="365.31" cy="353.25" r="1.5" fill="#3F80A8" stroke="#12304A" stroke-width="0.85"/>
<circle cx="360.52" cy="374.32" r="1.5" fill="#3F80A8" stroke="#12304A" stroke-width="0.85"/>
<circle cx="368.70" cy="364.18" r="1.5" fill="#3F80A8" stroke="#12304A" stroke-width="0.85"/>
<circle cx="366.90" cy="363.26" r="1.5" fill="#3F80A8" stroke="#12304A" stroke-width="0.85"/>
<circle cx="359.50" cy="376.20" r="1.5" fill="#3F80A8" stroke="#12304A" stroke-width="0.85"/>
<circle cx="361.30" cy="376.20" r="1.5" fill="#3F80A8" stroke="#12304A" stroke-width="0.85"/>
<circle cx="363.10" cy="376.20" r="1.5" fill="#3F80A8" stroke="#12304A" stroke-width="0.85"/>
<circle cx="364.90" cy="376.20" r="1.5" fill="#3F80A8" stroke="#12304A" stroke-width="0.85"/>
<circle cx="366.70" cy="376.20" r="1.5" fill="#3F80A8" stroke="#12304A" stroke-width="0.85"/>
<circle cx="368.50" cy="376.20" r="1.5" fill="#3F80A8" stroke="#12304A" stroke-width="0.85"/>
<circle cx="370.30" cy="376.20" r="1.5" fill="#3F80A8" stroke="#12304A" stroke-width="0.85"/>
<line x1="416.50" y1="339.40" x2="416.50" y2="376.20" stroke="#222" stroke-width="0.9"/>
<rect x="403.50" y="355.80" width="25.30" height="19.60" fill="#DCE2C6" fill-opacity="1"/>
<line x1="416.50" y1="339.40" x2="416.50" y2="355.80" stroke="#222" stroke-width="0.9"/>
<line x1="416.50" y1="375.40" x2="416.50" y2="376.20" stroke="#222" stroke-width="0.9"/>
<line x1="411.65" y1="339.50" x2="421.35" y2="339.50" stroke="#222" stroke-width="0.9"/>
<line x1="411.65" y1="376.50" x2="421.35" y2="376.50" stroke="#222" stroke-width="0.9"/>
<line x1="403.50" y1="371.50" x2="428.80" y2="371.50" stroke="#283020" stroke-width="1.3"/>
<circle cx="416.50" cy="339.50" r="1.5" fill="#C9CFAE" stroke="#4A4F40" stroke-width="0.75"/>
<circle cx="413.00" cy="349.00" r="1.5" fill="#C9CFAE" stroke="#4A4F40" stroke-width="0.75"/>
<circle cx="417.50" cy="361.50" r="1.5" fill="#C9CFAE" stroke="#4A4F40" stroke-width="0.75"/>
<circle cx="413.50" cy="376.00" r="1.5" fill="#C9CFAE" stroke="#4A4F40" stroke-width="0.75"/>
<circle cx="416.50" cy="376.00" r="1.5" fill="#C9CFAE" stroke="#4A4F40" stroke-width="0.75"/>
<circle cx="419.50" cy="376.00" r="1.5" fill="#C9CFAE" stroke="#4A4F40" stroke-width="0.75"/>
<circle cx="416.00" cy="372.00" r="1.5" fill="#C9CFAE" stroke="#4A4F40" stroke-width="0.75"/>
<text x="6.60" y="428.00" font-size="11.2" fill="#000" text-anchor="start" font-weight="bold">E</text>
<text x="136.30" y="437.50" font-size="8.1" fill="#2a2a2a" text-anchor="middle" stroke="#2a2a2a" stroke-width="0.16" textLength="46.90" lengthAdjust="spacingAndGlyphs">CellTiter–Glo</text>
<line x1="42.50" y1="447.10" x2="42.50" y2="583.20" stroke="#222" stroke-width="1.1"/>
<line x1="41.60" y1="582.50" x2="230.80" y2="582.50" stroke="#222" stroke-width="1.1"/>
<line x1="39.60" y1="554.50" x2="42.10" y2="554.50" stroke="#222" stroke-width="0.9"/>
<text x="36.10" y="557.00" font-size="6.3" fill="#333" text-anchor="end">10</text>
<line x1="39.60" y1="521.50" x2="42.10" y2="521.50" stroke="#222" stroke-width="0.9"/>
<text x="36.10" y="523.10" font-size="6.3" fill="#333" text-anchor="end">20</text>
<line x1="39.60" y1="487.50" x2="42.10" y2="487.50" stroke="#222" stroke-width="0.9"/>
<text x="36.10" y="489.20" font-size="6.3" fill="#333" text-anchor="end">30</text>
<line x1="39.60" y1="453.50" x2="42.10" y2="453.50" stroke="#222" stroke-width="0.9"/>
<text x="36.10" y="455.30" font-size="6.3" fill="#333" text-anchor="end">40</text>
<text x="23.20" y="515.00" font-size="7.4" fill="#2a2a2a" text-anchor="middle" font-weight="bold" textLength="9.80" lengthAdjust="spacingAndGlyphs" transform="rotate(-90 23.20 515.00)">DSS</text>
<line x1="69.50" y1="582.70" x2="69.50" y2="585.20" stroke="#222" stroke-width="0.9"/>
<text x="69.10" y="593.60" font-size="6.2" fill="#2a2a2a" text-anchor="middle">Daporinad</text>
<line x1="113.50" y1="582.70" x2="113.50" y2="585.20" stroke="#222" stroke-width="0.9"/>
<text x="113.90" y="593.60" font-size="6.2" fill="#2a2a2a" text-anchor="middle">KPT-9274</text>
<line x1="158.50" y1="582.70" x2="158.50" y2="585.20" stroke="#222" stroke-width="0.9"/>
<text x="158.90" y="593.60" font-size="6.2" fill="#2a2a2a" text-anchor="middle">GMX1778</text>
<line x1="204.50" y1="582.70" x2="204.50" y2="585.20" stroke="#222" stroke-width="0.9"/>
<text x="204.20" y="593.60" font-size="6.2" fill="#2a2a2a" text-anchor="middle">LSN3154567</text>
<line x1="63.50" y1="463.20" x2="63.50" y2="511.60" stroke="#222" stroke-width="0.9"/>
<rect x="58.75" y="476.10" width="9.70" height="28.00" fill="#E58A80" fill-opacity="0.85"/>
<line x1="63.50" y1="463.20" x2="63.50" y2="511.60" stroke="#222" stroke-width="0.9"/>
<line x1="59.00" y1="463.50" x2="68.20" y2="463.50" stroke="#222" stroke-width="0.9"/>
<line x1="59.00" y1="511.50" x2="68.20" y2="511.50" stroke="#222" stroke-width="0.9"/>
<line x1="58.75" y1="485.50" x2="68.45" y2="485.50" stroke="#5E1616" stroke-width="1.2"/>
<circle cx="62.60" cy="463.20" r="1.25" fill="#7A1518" stroke="#1A0A0A" stroke-width="0.6"/>
<circle cx="65.10" cy="474.50" r="1.25" fill="#7A1518" stroke="#1A0A0A" stroke-width="0.6"/>
<circle cx="62.10" cy="477.00" r="1.25" fill="#7A1518" stroke="#1A0A0A" stroke-width="0.6"/>
<circle cx="65.60" cy="486.00" r="1.25" fill="#7A1518" stroke="#1A0A0A" stroke-width="0.6"/>
<circle cx="64.60" cy="490.00" r="1.25" fill="#7A1518" stroke="#1A0A0A" stroke-width="0.6"/>
<circle cx="64.10" cy="504.00" r="1.25" fill="#7A1518" stroke="#1A0A0A" stroke-width="0.6"/>
<circle cx="62.10" cy="511.60" r="1.25" fill="#7A1518" stroke="#1A0A0A" stroke-width="0.6"/>
<circle cx="63.10" cy="463.20" r="1.25" fill="#7A1518" stroke="#1A0A0A" stroke-width="0.6"/>
<line x1="74.50" y1="460.30" x2="74.50" y2="576.50" stroke="#222" stroke-width="0.9"/>
<rect x="70.00" y="504.00" width="9.60" height="44.00" fill="#A9D2F0" fill-opacity="0.85"/>
<line x1="74.50" y1="460.30" x2="74.50" y2="576.50" stroke="#222" stroke-width="0.9"/>
<line x1="70.20" y1="460.50" x2="79.40" y2="460.50" stroke="#222" stroke-width="0.9"/>
<line x1="70.20" y1="576.50" x2="79.40" y2="576.50" stroke="#222" stroke-width="0.9"/>
<line x1="70.00" y1="529.50" x2="79.60" y2="529.50" stroke="#1A2A3A" stroke-width="1.2"/>
<circle cx="74.30" cy="460.30" r="1.25" fill="#2F6A88" stroke="#123040" stroke-width="0.6"/>
<circle cx="75.30" cy="467.00" r="1.25" fill="#2F6A88" stroke="#123040" stroke-width="0.6"/>
<circle cx="73.80" cy="473.00" r="1.25" fill="#2F6A88" stroke="#123040" stroke-width="0.6"/>
<circle cx="76.30" cy="476.50" r="1.25" fill="#2F6A88" stroke="#123040" stroke-width="0.6"/>
<circle cx="75.80" cy="478.00" r="1.25" fill="#2F6A88" stroke="#123040" stroke-width="0.6"/>
<circle cx="75.30" cy="481.00" r="1.25" fill="#2F6A88" stroke="#123040" stroke-width="0.6"/>
<circle cx="74.30" cy="492.00" r="1.25" fill="#2F6A88" stroke="#123040" stroke-width="0.6"/>
<circle cx="75.30" cy="500.00" r="1.25" fill="#2F6A88" stroke="#123040" stroke-width="0.6"/>
<circle cx="73.80" cy="505.00" r="1.25" fill="#2F6A88" stroke="#123040" stroke-width="0.6"/>
<circle cx="75.80" cy="509.00" r="1.25" fill="#2F6A88" stroke="#123040" stroke-width="0.6"/>
<circle cx="74.30" cy="513.00" r="1.25" fill="#2F6A88" stroke="#123040" stroke-width="0.6"/>
<circle cx="75.30" cy="518.00" r="1.25" fill="#2F6A88" stroke="#123040" stroke-width="0.6"/>
<circle cx="76.30" cy="521.00" r="1.25" fill="#2F6A88" stroke="#123040" stroke-width="0.6"/>
<circle cx="73.80" cy="526.00" r="1.25" fill="#2F6A88" stroke="#123040" stroke-width="0.6"/>
<circle cx="75.80" cy="528.00" r="1.25" fill="#2F6A88" stroke="#123040" stroke-width="0.6"/>
<circle cx="74.80" cy="531.00" r="1.25" fill="#2F6A88" stroke="#123040" stroke-width="0.6"/>
<circle cx="73.80" cy="535.00" r="1.25" fill="#2F6A88" stroke="#123040" stroke-width="0.6"/>
<circle cx="75.80" cy="539.00" r="1.25" fill="#2F6A88" stroke="#123040" stroke-width="0.6"/>
<circle cx="74.80" cy="544.00" r="1.25" fill="#2F6A88" stroke="#123040" stroke-width="0.6"/>
<circle cx="74.30" cy="549.00" r="1.25" fill="#2F6A88" stroke="#123040" stroke-width="0.6"/>
<circle cx="73.30" cy="555.00" r="1.25" fill="#2F6A88" stroke="#123040" stroke-width="0.6"/>
<circle cx="75.80" cy="562.00" r="1.25" fill="#2F6A88" stroke="#123040" stroke-width="0.6"/>
<circle cx="73.80" cy="570.00" r="1.25" fill="#2F6A88" stroke="#123040" stroke-width="0.6"/>
<circle cx="74.30" cy="573.00" r="1.25" fill="#2F6A88" stroke="#123040" stroke-width="0.6"/>
<circle cx="74.80" cy="576.50" r="1.25" fill="#2F6A88" stroke="#123040" stroke-width="0.6"/>
<circle cx="75.80" cy="508.00" r="1.25" fill="#2F6A88" stroke="#123040" stroke-width="0.6"/>
<circle cx="73.60" cy="512.00" r="1.25" fill="#2F6A88" stroke="#123040" stroke-width="0.6"/>
<circle cx="75.60" cy="524.00" r="1.25" fill="#2F6A88" stroke="#123040" stroke-width="0.6"/>
<path d="M63.60,449.10 L63.60,447.90 L75.00,447.90 L75.00,449.10" fill="none" stroke="#333" stroke-width="0.9"/>
<rect x="67.43" y="443.88" width="1.24" height="1.24" fill="#333"/>
<rect x="69.93" y="443.88" width="1.24" height="1.24" fill="#333"/>
<text x="62.20" y="460.00" font-size="6.2" fill="#3a3a3a" text-anchor="middle">n = 9</text>
<text x="78.30" y="454.30" font-size="6.2" fill="#3a3a3a" text-anchor="middle">n = 40</text>
<line x1="108.50" y1="509.60" x2="108.50" y2="542.00" stroke="#222" stroke-width="0.9"/>
<rect x="103.25" y="513.40" width="9.90" height="12.00" fill="#E58A80" fill-opacity="0.85"/>
<line x1="108.50" y1="509.60" x2="108.50" y2="542.00" stroke="#222" stroke-width="0.9"/>
<line x1="103.60" y1="509.50" x2="112.80" y2="509.50" stroke="#222" stroke-width="0.9"/>
<line x1="103.60" y1="542.50" x2="112.80" y2="542.50" stroke="#222" stroke-width="0.9"/>
<line x1="103.25" y1="518.50" x2="113.15" y2="518.50" stroke="#5E1616" stroke-width="1.2"/>
<circle cx="107.70" cy="509.60" r="1.25" fill="#7A1518" stroke="#1A0A0A" stroke-width="0.6"/>
<circle cx="109.20" cy="512.00" r="1.25" fill="#7A1518" stroke="#1A0A0A" stroke-width="0.6"/>
<circle cx="107.20" cy="515.00" r="1.25" fill="#7A1518" stroke="#1A0A0A" stroke-width="0.6"/>
<circle cx="109.70" cy="517.00" r="1.25" fill="#7A1518" stroke="#1A0A0A" stroke-width="0.6"/>
<circle cx="108.70" cy="520.00" r="1.25" fill="#7A1518" stroke="#1A0A0A" stroke-width="0.6"/>
<circle cx="107.70" cy="524.00" r="1.25" fill="#7A1518" stroke="#1A0A0A" stroke-width="0.6"/>
<circle cx="108.70" cy="535.00" r="1.25" fill="#7A1518" stroke="#1A0A0A" stroke-width="0.6"/>
<circle cx="108.20" cy="542.00" r="1.25" fill="#7A1518" stroke="#1A0A0A" stroke-width="0.6"/>
<line x1="119.50" y1="520.50" x2="119.50" y2="575.00" stroke="#222" stroke-width="0.9"/>
<rect x="115.15" y="526.80" width="9.50" height="40.60" fill="#A9D2F0" fill-opacity="0.85"/>
<line x1="119.50" y1="520.50" x2="119.50" y2="575.00" stroke="#222" stroke-width="0.9"/>
<line x1="115.30" y1="520.50" x2="124.50" y2="520.50" stroke="#222" stroke-width="0.9"/>
<line x1="115.30" y1="575.50" x2="124.50" y2="575.50" stroke="#222" stroke-width="0.9"/>
<line x1="115.15" y1="543.50" x2="124.65" y2="543.50" stroke="#1A2A3A" stroke-width="1.2"/>
<circle cx="119.90" cy="520.50" r="1.25" fill="#2F6A88" stroke="#123040" stroke-width="0.6"/>
<circle cx="118.90" cy="529.00" r="1.25" fill="#2F6A88" stroke="#123040" stroke-width="0.6"/>
<circle cx="120.40" cy="543.00" r="1.25" fill="#2F6A88" stroke="#123040" stroke-width="0.6"/>
<circle cx="120.90" cy="560.00" r="1.25" fill="#2F6A88" stroke="#123040" stroke-width="0.6"/>
<circle cx="120.40" cy="567.00" r="1.25" fill="#2F6A88" stroke="#123040" stroke-width="0.6"/>
<circle cx="119.40" cy="570.00" r="1.25" fill="#2F6A88" stroke="#123040" stroke-width="0.6"/>
<circle cx="119.90" cy="575.00" r="1.25" fill="#2F6A88" stroke="#123040" stroke-width="0.6"/>
<circle cx="120.90" cy="553.00" r="1.25" fill="#2F6A88" stroke="#123040" stroke-width="0.6"/>
<circle cx="118.90" cy="538.00" r="1.25" fill="#2F6A88" stroke="#123040" stroke-width="0.6"/>
<path d="M108.20,501.20 L108.20,500.00 L119.60,500.00 L119.60,501.20" fill="none" stroke="#333" stroke-width="0.9"/>
<rect x="113.28" y="496.18" width="1.24" height="1.24" fill="#333"/>
<text x="108.70" y="507.70" font-size="6.2" fill="#3a3a3a" text-anchor="middle">n = 8</text>
<text x="120.30" y="517.20" font-size="6.2" fill="#3a3a3a" text-anchor="middle">n = 9</text>
<line x1="153.50" y1="471.10" x2="153.50" y2="491.40" stroke="#222" stroke-width="0.9"/>
<rect x="148.00" y="474.50" width="10.80" height="6.90" fill="#E58A80" fill-opacity="0.85"/>
<line x1="153.50" y1="471.10" x2="153.50" y2="491.40" stroke="#222" stroke-width="0.9"/>
<line x1="148.80" y1="471.50" x2="158.00" y2="471.50" stroke="#222" stroke-width="0.9"/>
<line x1="148.80" y1="491.50" x2="158.00" y2="491.50" stroke="#222" stroke-width="0.9"/>
<line x1="148.00" y1="475.50" x2="158.80" y2="475.50" stroke="#5E1616" stroke-width="1.2"/>
<circle cx="152.80" cy="471.10" r="1.25" fill="#B4142A" stroke="#8A1020" stroke-width="0.6"/>
<circle cx="151.80" cy="474.00" r="1.25" fill="#B4142A" stroke="#8A1020" stroke-width="0.6"/>
<circle cx="153.80" cy="476.00" r="1.25" fill="#B4142A" stroke="#8A1020" stroke-width="0.6"/>
<circle cx="153.30" cy="478.50" r="1.25" fill="#B4142A" stroke="#8A1020" stroke-width="0.6"/>
<circle cx="152.30" cy="480.00" r="1.25" fill="#B4142A" stroke="#8A1020" stroke-width="0.6"/>
<circle cx="152.80" cy="491.40" r="1.25" fill="#B4142A" stroke="#8A1020" stroke-width="0.6"/>
<circle cx="152.20" cy="504.50" r="1.25" fill="#B4142A" stroke="#8A1020" stroke-width="0.6"/>
<circle cx="154.00" cy="473.00" r="1.25" fill="#B4142A" stroke="#8A1020" stroke-width="0.6"/>
<line x1="164.50" y1="477.80" x2="164.50" y2="542.30" stroke="#222" stroke-width="0.9"/>
<rect x="159.95" y="488.40" width="9.70" height="22.30" fill="#A9D2F0" fill-opacity="0.85"/>
<line x1="164.50" y1="477.80" x2="164.50" y2="542.30" stroke="#222" stroke-width="0.9"/>
<line x1="160.20" y1="477.50" x2="169.40" y2="477.50" stroke="#222" stroke-width="0.9"/>
<line x1="160.20" y1="542.50" x2="169.40" y2="542.50" stroke="#222" stroke-width="0.9"/>
<line x1="159.95" y1="498.50" x2="169.65" y2="498.50" stroke="#1A2A3A" stroke-width="1.2"/>
<circle cx="164.80" cy="477.80" r="1.25" fill="#2F6A88" stroke="#123040" stroke-width="0.6"/>
<circle cx="164.30" cy="483.00" r="1.25" fill="#2F6A88" stroke="#123040" stroke-width="0.6"/>
<circle cx="165.30" cy="486.00" r="1.25" fill="#2F6A88" stroke="#123040" stroke-width="0.6"/>
<circle cx="165.80" cy="497.50" r="1.25" fill="#2F6A88" stroke="#123040" stroke-width="0.6"/>
<circle cx="164.30" cy="500.00" r="1.25" fill="#2F6A88" stroke="#123040" stroke-width="0.6"/>
<circle cx="164.80" cy="508.00" r="1.25" fill="#2F6A88" stroke="#123040" stroke-width="0.6"/>
<circle cx="165.30" cy="513.00" r="1.25" fill="#2F6A88" stroke="#123040" stroke-width="0.6"/>
<circle cx="164.30" cy="542.30" r="1.25" fill="#2F6A88" stroke="#123040" stroke-width="0.6"/>
<circle cx="165.30" cy="492.00" r="1.25" fill="#2F6A88" stroke="#123040" stroke-width="0.6"/>
<path d="M152.80,464.80 L152.80,463.60 L165.00,463.60 L165.00,464.80" fill="none" stroke="#333" stroke-width="0.9"/>
<rect x="158.28" y="459.78" width="1.24" height="1.24" fill="#333"/>
<text x="152.80" y="469.50" font-size="6.2" fill="#3a3a3a" text-anchor="middle">n = 8</text>
<text x="166.40" y="474.50" font-size="6.2" fill="#3a3a3a" text-anchor="middle">n = 9</text>
<line x1="198.50" y1="504.90" x2="198.50" y2="525.80" stroke="#222" stroke-width="0.9"/>
<rect x="193.40" y="511.90" width="10.00" height="5.70" fill="#E58A80" fill-opacity="0.85"/>
<line x1="198.50" y1="504.90" x2="198.50" y2="525.80" stroke="#222" stroke-width="0.9"/>
<line x1="193.80" y1="504.50" x2="203.00" y2="504.50" stroke="#222" stroke-width="0.9"/>
<line x1="193.80" y1="525.50" x2="203.00" y2="525.50" stroke="#222" stroke-width="0.9"/>
<line x1="193.40" y1="514.50" x2="203.40" y2="514.50" stroke="#5E1616" stroke-width="1.2"/>
<circle cx="198.10" cy="504.90" r="1.25" fill="#B4142A" stroke="#8A1020" stroke-width="0.6"/>
<circle cx="197.10" cy="512.00" r="1.25" fill="#B4142A" stroke="#8A1020" stroke-width="0.6"/>
<circle cx="199.10" cy="514.00" r="1.25" fill="#B4142A" stroke="#8A1020" stroke-width="0.6"/>
<circle cx="198.60" cy="516.00" r="1.25" fill="#B4142A" stroke="#8A1020" stroke-width="0.6"/>
<circle cx="197.60" cy="518.00" r="1.25" fill="#B4142A" stroke="#8A1020" stroke-width="0.6"/>
<circle cx="198.10" cy="525.80" r="1.25" fill="#B4142A" stroke="#8A1020" stroke-width="0.6"/>
<circle cx="200.70" cy="532.80" r="1.25" fill="#B4142A" stroke="#8A1020" stroke-width="0.6"/>
<circle cx="197.30" cy="513.50" r="1.25" fill="#B4142A" stroke="#8A1020" stroke-width="0.6"/>
<line x1="210.50" y1="504.90" x2="210.50" y2="571.30" stroke="#222" stroke-width="0.9"/>
<rect x="205.55" y="524.10" width="9.10" height="26.20" fill="#A9D2F0" fill-opacity="0.85"/>
<line x1="210.50" y1="504.90" x2="210.50" y2="571.30" stroke="#222" stroke-width="0.9"/>
<line x1="205.50" y1="504.50" x2="214.70" y2="504.50" stroke="#222" stroke-width="0.9"/>
<line x1="205.50" y1="571.50" x2="214.70" y2="571.50" stroke="#222" stroke-width="0.9"/>
<line x1="205.55" y1="536.50" x2="214.65" y2="536.50" stroke="#1A2A3A" stroke-width="1.2"/>
<circle cx="210.10" cy="504.90" r="1.25" fill="#2F6A88" stroke="#123040" stroke-width="0.6"/>
<circle cx="210.60" cy="521.00" r="1.25" fill="#2F6A88" stroke="#123040" stroke-width="0.6"/>
<circle cx="211.10" cy="525.00" r="1.25" fill="#2F6A88" stroke="#123040" stroke-width="0.6"/>
<circle cx="209.60" cy="545.00" r="1.25" fill="#2F6A88" stroke="#123040" stroke-width="0.6"/>
<circle cx="210.60" cy="548.00" r="1.25" fill="#2F6A88" stroke="#123040" stroke-width="0.6"/>
<circle cx="209.10" cy="553.00" r="1.25" fill="#2F6A88" stroke="#123040" stroke-width="0.6"/>
<circle cx="210.10" cy="571.30" r="1.25" fill="#2F6A88" stroke="#123040" stroke-width="0.6"/>
<circle cx="209.60" cy="531.00" r="1.25" fill="#2F6A88" stroke="#123040" stroke-width="0.6"/>
<circle cx="210.60" cy="538.00" r="1.25" fill="#2F6A88" stroke="#123040" stroke-width="0.6"/>
<path d="M198.10,497.30 L198.10,496.10 L210.10,496.10 L210.10,497.30" fill="none" stroke="#333" stroke-width="0.9"/>
<rect x="203.48" y="492.28" width="1.24" height="1.24" fill="#333"/>
<text x="195.50" y="501.90" font-size="6.2" fill="#3a3a3a" text-anchor="middle">n = 8</text>
<text x="212.30" y="501.90" font-size="6.2" fill="#3a3a3a" text-anchor="middle">n = 9</text>
<rect x="191.00" y="448.00" width="5.80" height="4.80" fill="#8A1A22" rx="1"/>
<circle cx="193.90" cy="450.40" r="1.3" fill="#6A0A12" stroke="#4A0A0A" stroke-width="0.5"/>
<text x="199.80" y="452.50" font-size="6.1" fill="#333" text-anchor="start" textLength="18.00" lengthAdjust="spacingAndGlyphs">−7/−7q</text>
<rect x="191.00" y="457.50" width="5.80" height="4.80" fill="#2A8AB8" rx="1"/>
<circle cx="193.90" cy="459.90" r="1.3" fill="#1A5A78" stroke="#0A3A50" stroke-width="0.5"/>
<text x="199.80" y="461.90" font-size="6.1" fill="#333" text-anchor="start" textLength="30.90" lengthAdjust="spacingAndGlyphs">Non −7/−7q</text>
<text x="246.50" y="428.00" font-size="11.2" fill="#000" text-anchor="start" font-weight="bold">F</text>
<text x="397.80" y="437.50" font-size="8.1" fill="#2a2a2a" text-anchor="middle" stroke="#2a2a2a" stroke-width="0.16" textLength="47.50" lengthAdjust="spacingAndGlyphs">CellTiter–Glo</text>
<rect x="283.90" y="447.94" width="5.45" height="134.46" fill="#C8102E"/>
<line x1="286.50" y1="582.40" x2="286.50" y2="584.90" stroke="#222" stroke-width="0.8"/>
<text x="288.12" y="589.60" font-size="6.3" fill="#333" text-anchor="end" transform="rotate(-45 288.12 589.60)">KO52</text>
<rect x="291.83" y="451.31" width="5.45" height="131.09" fill="#C8102E"/>
<line x1="294.50" y1="582.40" x2="294.50" y2="584.90" stroke="#222" stroke-width="0.8"/>
<text x="296.06" y="589.60" font-size="6.3" fill="#333" text-anchor="end" transform="rotate(-45 296.06 589.60)">NOMO–1</text>
<rect x="299.77" y="459.06" width="5.45" height="123.34" fill="#C8102E"/>
<line x1="302.50" y1="582.40" x2="302.50" y2="584.90" stroke="#222" stroke-width="0.8"/>
<text x="304.00" y="589.60" font-size="6.3" fill="#333" text-anchor="end" transform="rotate(-45 304.00 589.60)">ML–2</text>
<rect x="307.70" y="474.22" width="5.45" height="108.18" fill="#35A8E0"/>
<line x1="310.50" y1="582.40" x2="310.50" y2="584.90" stroke="#222" stroke-width="0.8"/>
<text x="311.93" y="589.60" font-size="6.3" fill="#333" text-anchor="end" transform="rotate(-45 311.93 589.60)">MOLM–13</text>
<rect x="315.64" y="482.65" width="5.45" height="99.75" fill="#35A8E0"/>
<line x1="318.50" y1="582.40" x2="318.50" y2="584.90" stroke="#222" stroke-width="0.8"/>
<text x="319.87" y="589.60" font-size="6.3" fill="#333" text-anchor="end" transform="rotate(-45 319.87 589.60)">MV4–11</text>
<rect x="323.57" y="485.01" width="5.45" height="97.39" fill="#35A8E0"/>
<line x1="326.50" y1="582.40" x2="326.50" y2="584.90" stroke="#222" stroke-width="0.8"/>
<text x="327.80" y="589.60" font-size="6.3" fill="#333" text-anchor="end" transform="rotate(-45 327.80 589.60)">OCI–AML3</text>
<rect x="331.51" y="486.02" width="5.45" height="96.38" fill="#35A8E0"/>
<line x1="334.50" y1="582.40" x2="334.50" y2="584.90" stroke="#222" stroke-width="0.8"/>
<text x="335.74" y="589.60" font-size="6.3" fill="#333" text-anchor="end" transform="rotate(-45 335.74 589.60)">OCI–AML2</text>
<rect x="339.44" y="489.05" width="5.45" height="93.35" fill="#35A8E0"/>
<line x1="342.50" y1="582.40" x2="342.50" y2="584.90" stroke="#222" stroke-width="0.8"/>
<text x="343.67" y="589.60" font-size="6.3" fill="#333" text-anchor="end" transform="rotate(-45 343.67 589.60)">UT–7</text>
<rect x="347.38" y="490.06" width="5.45" height="92.34" fill="#C8102E"/>
<line x1="350.50" y1="582.40" x2="350.50" y2="584.90" stroke="#222" stroke-width="0.8"/>
<text x="351.61" y="589.60" font-size="6.3" fill="#333" text-anchor="end" transform="rotate(-45 351.61 589.60)">KG–1</text>
<rect x="355.31" y="491.75" width="5.45" height="90.65" fill="#35A8E0"/>
<line x1="358.50" y1="582.40" x2="358.50" y2="584.90" stroke="#222" stroke-width="0.8"/>
<text x="359.54" y="589.60" font-size="6.3" fill="#333" text-anchor="end" transform="rotate(-45 359.54 589.60)">NB–4</text>
<rect x="363.25" y="493.77" width="5.45" height="88.63" fill="#35A8E0"/>
<line x1="365.50" y1="582.40" x2="365.50" y2="584.90" stroke="#222" stroke-width="0.8"/>
<text x="367.48" y="589.60" font-size="6.3" fill="#333" text-anchor="end" transform="rotate(-45 367.48 589.60)">MONO–MAC–6</text>
<rect x="371.18" y="498.82" width="5.45" height="83.58" fill="#35A8E0"/>
<line x1="373.50" y1="582.40" x2="373.50" y2="584.90" stroke="#222" stroke-width="0.8"/>
<text x="375.41" y="589.60" font-size="6.3" fill="#333" text-anchor="end" transform="rotate(-45 375.41 589.60)">MOLM–16</text>
<rect x="379.12" y="500.51" width="5.45" height="81.89" fill="#35A8E0"/>
<line x1="381.50" y1="582.40" x2="381.50" y2="584.90" stroke="#222" stroke-width="0.8"/>
<text x="383.35" y="589.60" font-size="6.3" fill="#333" text-anchor="end" transform="rotate(-45 383.35 589.60)">MUTZ–2</text>
<rect x="387.05" y="503.54" width="5.45" height="78.86" fill="#35A8E0"/>
<line x1="389.50" y1="582.40" x2="389.50" y2="584.90" stroke="#222" stroke-width="0.8"/>
<text x="391.28" y="589.60" font-size="6.3" fill="#333" text-anchor="end" transform="rotate(-45 391.28 589.60)">MONO–MAC–1</text>
<rect x="394.99" y="511.63" width="5.45" height="70.77" fill="#35A8E0"/>
<line x1="397.50" y1="582.40" x2="397.50" y2="584.90" stroke="#222" stroke-width="0.8"/>
<text x="399.21" y="589.60" font-size="6.3" fill="#333" text-anchor="end" transform="rotate(-45 399.21 589.60)">SKM–1</text>
<rect x="402.92" y="517.70" width="5.45" height="64.70" fill="#35A8E0"/>
<line x1="405.50" y1="582.40" x2="405.50" y2="584.90" stroke="#222" stroke-width="0.8"/>
<text x="407.15" y="589.60" font-size="6.3" fill="#333" text-anchor="end" transform="rotate(-45 407.15 589.60)">THP–1</text>
<rect x="410.86" y="518.37" width="5.45" height="64.03" fill="#35A8E0"/>
<line x1="413.50" y1="582.40" x2="413.50" y2="584.90" stroke="#222" stroke-width="0.8"/>
<text x="415.08" y="589.60" font-size="6.3" fill="#333" text-anchor="end" transform="rotate(-45 415.08 589.60)">OCI–AML5</text>
<rect x="418.79" y="522.08" width="5.45" height="60.32" fill="#35A8E0"/>
<line x1="421.50" y1="582.40" x2="421.50" y2="584.90" stroke="#222" stroke-width="0.8"/>
<text x="423.02" y="589.60" font-size="6.3" fill="#333" text-anchor="end" transform="rotate(-45 423.02 589.60)">AP–1060</text>
<rect x="426.73" y="527.13" width="5.45" height="55.27" fill="#35A8E0"/>
<line x1="429.50" y1="582.40" x2="429.50" y2="584.90" stroke="#222" stroke-width="0.8"/>
<text x="430.95" y="589.60" font-size="6.3" fill="#333" text-anchor="end" transform="rotate(-45 430.95 589.60)">AML–193</text>
<rect x="434.66" y="539.94" width="5.45" height="42.46" fill="#35A8E0"/>
<line x1="437.50" y1="582.40" x2="437.50" y2="584.90" stroke="#222" stroke-width="0.8"/>
<text x="438.89" y="589.60" font-size="6.3" fill="#333" text-anchor="end" transform="rotate(-45 438.89 589.60)">KASUMI–6</text>
<rect x="442.60" y="552.07" width="5.45" height="30.33" fill="#35A8E0"/>
<line x1="445.50" y1="582.40" x2="445.50" y2="584.90" stroke="#222" stroke-width="0.8"/>
<text x="446.82" y="589.60" font-size="6.3" fill="#333" text-anchor="end" transform="rotate(-45 446.82 589.60)">SIG–M5</text>
<rect x="450.53" y="559.15" width="5.45" height="23.25" fill="#35A8E0"/>
<line x1="453.50" y1="582.40" x2="453.50" y2="584.90" stroke="#222" stroke-width="0.8"/>
<text x="454.76" y="589.60" font-size="6.3" fill="#333" text-anchor="end" transform="rotate(-45 454.76 589.60)">HL–60 TB</text>
<rect x="458.47" y="561.51" width="5.45" height="20.89" fill="#35A8E0"/>
<line x1="461.50" y1="582.40" x2="461.50" y2="584.90" stroke="#222" stroke-width="0.8"/>
<text x="462.69" y="589.60" font-size="6.3" fill="#333" text-anchor="end" transform="rotate(-45 462.69 589.60)">SH–1</text>
<rect x="466.40" y="566.90" width="5.45" height="15.50" fill="#35A8E0"/>
<line x1="469.50" y1="582.40" x2="469.50" y2="584.90" stroke="#222" stroke-width="0.8"/>
<text x="470.63" y="589.60" font-size="6.3" fill="#333" text-anchor="end" transform="rotate(-45 470.63 589.60)">ME–1</text>
<rect x="474.34" y="570.61" width="5.45" height="11.79" fill="#35A8E0"/>
<line x1="477.50" y1="582.40" x2="477.50" y2="584.90" stroke="#222" stroke-width="0.8"/>
<text x="478.56" y="589.60" font-size="6.3" fill="#333" text-anchor="end" transform="rotate(-45 478.56 589.60)">GDM–1</text>
<rect x="482.27" y="574.65" width="5.45" height="7.75" fill="#35A8E0"/>
<line x1="485.50" y1="582.40" x2="485.50" y2="584.90" stroke="#222" stroke-width="0.8"/>
<text x="486.50" y="589.60" font-size="6.3" fill="#333" text-anchor="end" transform="rotate(-45 486.50 589.60)">PL–21</text>
<rect x="490.21" y="581.39" width="5.45" height="1.01" fill="#35A8E0"/>
<line x1="492.50" y1="582.40" x2="492.50" y2="584.90" stroke="#222" stroke-width="0.8"/>
<text x="494.44" y="589.60" font-size="6.3" fill="#333" text-anchor="end" transform="rotate(-45 494.44 589.60)">KASUMI–1</text>
<rect x="498.14" y="582.23" width="5.45" height="0.17" fill="#35A8E0"/>
<line x1="500.50" y1="582.40" x2="500.50" y2="584.90" stroke="#222" stroke-width="0.8"/>
<text x="502.37" y="589.60" font-size="6.3" fill="#333" text-anchor="end" transform="rotate(-45 502.37 589.60)">HL–60</text>
<rect x="506.08" y="582.23" width="5.45" height="0.17" fill="#35A8E0"/>
<line x1="508.50" y1="582.40" x2="508.50" y2="584.90" stroke="#222" stroke-width="0.8"/>
<text x="510.30" y="589.60" font-size="6.3" fill="#333" text-anchor="end" transform="rotate(-45 510.30 589.60)">SH–2</text>
<line x1="280.50" y1="445.80" x2="280.50" y2="583.00" stroke="#222" stroke-width="1.1"/>
<line x1="280.40" y1="582.50" x2="513.10" y2="582.50" stroke="#222" stroke-width="1.1"/>
<line x1="278.40" y1="582.50" x2="280.90" y2="582.50" stroke="#222" stroke-width="0.9"/>
<text x="276.00" y="584.50" font-size="6.3" fill="#333" text-anchor="end">0</text>
<line x1="278.40" y1="548.50" x2="280.90" y2="548.50" stroke="#222" stroke-width="0.9"/>
<text x="276.00" y="550.80" font-size="6.3" fill="#333" text-anchor="end">10</text>
<line x1="278.40" y1="515.50" x2="280.90" y2="515.50" stroke="#222" stroke-width="0.9"/>
<text x="276.00" y="517.10" font-size="6.3" fill="#333" text-anchor="end">20</text>
<line x1="278.40" y1="481.50" x2="280.90" y2="481.50" stroke="#222" stroke-width="0.9"/>
<text x="276.00" y="483.40" font-size="6.3" fill="#333" text-anchor="end">30</text>
<line x1="278.40" y1="447.50" x2="280.90" y2="447.50" stroke="#222" stroke-width="0.9"/>
<text x="276.00" y="449.70" font-size="6.3" fill="#333" text-anchor="end">40</text>
<text x="262.60" y="513.70" font-size="7.2" fill="#2a2a2a" text-anchor="middle" font-weight="bold" textLength="37.80" lengthAdjust="spacingAndGlyphs" transform="rotate(-90 262.60 513.70)">Daporinad DSS</text>
<rect x="447.80" y="474.80" width="5.80" height="5.40" fill="#C8102E"/>
<text x="456.70" y="479.80" font-size="6.1" fill="#333" text-anchor="start" textLength="17.90" lengthAdjust="spacingAndGlyphs">−7/−7q</text>
<rect x="447.80" y="484.40" width="5.80" height="5.40" fill="#35A8E0"/>
<text x="456.70" y="489.50" font-size="6.1" fill="#333" text-anchor="start" textLength="30.80" lengthAdjust="spacingAndGlyphs">Non −7/−7q</text>
</svg>
</body></html>
